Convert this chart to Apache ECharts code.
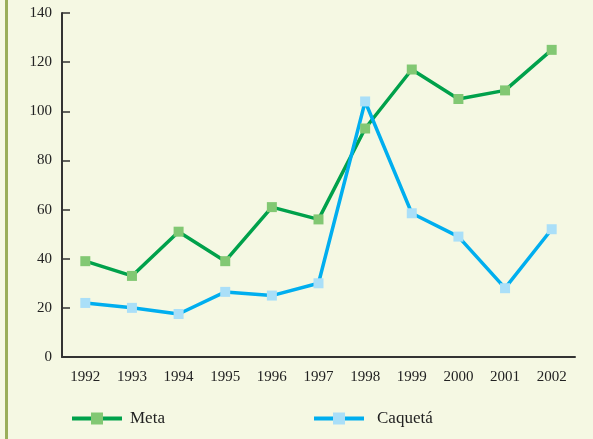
<!DOCTYPE html>
<html>
<head>
<meta charset="utf-8">
<script src="https://cdn.jsdelivr.net/npm/echarts@6/dist/echarts.min.js"></script>
<style>
  html, body { margin: 0; padding: 0; background: #f5f8e3; }
  #myChart { width: 593px; height: 439px; }
</style>
</head>
<body>
<div id="myChart"></div>
<script>
// años y valores
const years = ['1992', '1993', '1994', '1995', '1996', '1997', '1998', '1999', '2000', '2001', '2002']
const meta = [39, 33, 51, 39, 61, 56, 93, 117, 105, 108.5, 125]
const caqueta = [22, 20, 17.5, 26.5, 25, 30, 104, 58.5, 49, 28, 52]
const yTicks = [0, 20, 40, 60, 80, 100, 120, 140]

const myChart = echarts.init(document.getElementById('myChart'))
const font = 'Liberation Serif'

myChart.setOption({
  backgroundColor: '#f5f8e3',
  animation: false,
  graphic: [{
    type: 'rect',
    shape: { x: 5, y: 0, width: 3, height: 439 },
    style: { fill: '#9aae5a' }
  }],
  legend: [{
    left: 65,
    top: 405,
    itemWidth: 50,
    itemHeight: 15,
    lineStyle: { width: 4 },
    data: ['Meta'],
    textStyle: { fontFamily: font, fontSize: 17, color: '#222', padding: [0, 0, 0, 3] }
  }, {
    left: 307,
    top: 405,
    itemWidth: 50,
    itemHeight: 15,
    lineStyle: { width: 4 },
    data: ['Caquetá'],
    textStyle: { fontFamily: font, fontSize: 17, color: '#222', padding: [0, 0, 0, 8] }
  }],
  grid: {
    left: 62,
    right: 18,
    top: 13,
    bottom: 82
  },
  xAxis: {
    type: 'category',
    data: years,
    boundaryGap: true,
    axisLine: { lineStyle: { color: '#333', width: 2 } },
    axisTick: { inside: true, length: 8, lineStyle: { color: '#333', width: 1.5 } },
    axisLabel: { margin: 13, fontFamily: font, fontSize: 15, color: '#222', interval: 0 }
  },
  yAxis: {
    type: 'value',
    min: 0,
    max: 140,
    interval: 20,
    axisLine: { show: true, lineStyle: { color: '#333', width: 2 } },
    axisTick: { show: true, inside: true, length: 8, lineStyle: { color: '#333', width: 1.5 } },
    axisLabel: {
      margin: 10, fontFamily: font, fontSize: 15, color: '#222',
      customValues: yTicks
    },
    splitLine: { show: false }
  },
  series: [{
    name: 'Meta',
    type: 'line',
    data: meta,
    symbol: 'rect',
    symbolSize: 10,
    lineStyle: { color: '#00a14b', width: 3.5 },
    itemStyle: { color: '#82c873' }
  }, {
    name: 'Caquetá',
    type: 'line',
    data: caqueta,
    symbol: 'rect',
    symbolSize: 10,
    lineStyle: { color: '#00aeef', width: 3.5 },
    itemStyle: { color: '#aadff8' }
  }]
})
</script>
</body>
</html>
